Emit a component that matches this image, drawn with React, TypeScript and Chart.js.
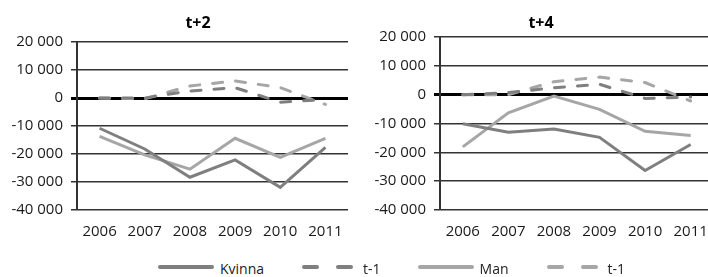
import React, { useEffect, useRef } from 'react';
import { Chart, registerables } from 'chart.js';

Chart.register(...registerables);

const years = ['2006', '2007', '2008', '2009', '2010', '2011'];
const yTicks = [-40000, -30000, -20000, -10000, 0, 10000, 20000];
const seriesLabels = ['Kvinna', 't-1', 'Man', 't-1'];
const chartTitles = ['t+2', 't+4'];

// t+2
const kvinnaT2 = [-10800, -18200, -28300, -22100, -31900, -17600];
const kvinnaT2Prev = [0, 0, 2500, 3700, -1500, -500];
const manT2 = [-13700, -20300, -25400, -14400, -21200, -14400];
const manT2Prev = [0, -300, 4300, 6100, 3700, -2300];

// t+4
const kvinnaT4 = [-10100, -13000, -11900, -14800, -26300, -17300];
const kvinnaT4Prev = [0, 700, 2400, 3600, -1300, -800];
const manT4 = [-18100, -6300, -500, -5100, -12700, -14200];
const manT4Prev = [0, 0, 4500, 6100, 4200, -2200];

const DARK = '#7f7f7f';
const LIGHT = '#a6a6a6';
const FONT = "'Open Sans', sans-serif";
const TEXT = '#1a1a1a';

function fmt(v: number): string {
  const s = Math.abs(v).toString().replace(/\B(?=(\d{3})+(?!\d))/g, ' ');
  return (v < 0 ? '-' : '') + s;
}

type Layout = { top: number; yWidth: number; right: number; bottom: number; xHeight: number };

function makeConfig(kv: number[], kvPrev: number[], man: number[], manPrev: number[], L: Layout): any {
  const solid = (label: string, data: number[], color: string) => ({
    label, data, borderColor: color, backgroundColor: color, borderWidth: 3,
    pointRadius: 0, tension: 0, fill: false, borderJoinStyle: 'miter',
  });
  const dashed = (label: string, data: number[], color: string) => ({
    label, data, borderColor: color, backgroundColor: color, borderWidth: 3,
    pointRadius: 0, tension: 0, fill: false, borderDash: [10, 13], borderCapStyle: 'round',
  });
  return {
    type: 'line',
    data: {
      labels: years,
      datasets: [
        solid(seriesLabels[0], kv, DARK),
        dashed(seriesLabels[1], kvPrev, DARK),
        solid(seriesLabels[2], man, LIGHT),
        dashed(seriesLabels[3], manPrev, LIGHT),
      ],
    },
    options: {
      responsive: false,
      animation: false,
      layout: { padding: { top: L.top, left: 0, right: L.right, bottom: L.bottom } },
      plugins: { legend: { display: false }, title: { display: false }, tooltip: { enabled: false } },
      scales: {
        x: {
          offset: true,
          grid: { display: false, drawTicks: false },
          border: { display: false },
          ticks: { color: TEXT, font: { family: FONT, size: 15 }, padding: 13, maxRotation: 0, autoSkip: false },
          afterFit: (s: any) => { s.height = L.xHeight; },
        },
        y: {
          min: -40000,
          max: 20000,
          afterBuildTicks: (s: any) => { s.ticks = yTicks.map((v) => ({ value: v })); },
          grid: {
            color: (c: any) => (c.tick && c.tick.value === 0 ? '#000' : '#333'),
            lineWidth: (c: any) => (c.tick && c.tick.value === 0 ? 3 : 1.5),
            tickLength: 6,
          },
          border: { display: true, color: '#333', width: 2 },
          ticks: { color: TEXT, font: { family: FONT, size: 15 }, padding: 8, callback: (v: any) => fmt(Number(v)) },
          afterFit: (s: any) => { s.width = L.yWidth; },
        },
      },
    },
  };
}

function ChartBox(props: { config: any; left: number; width: number; height: number }) {
  const ref = useRef<HTMLCanvasElement | null>(null);
  useEffect(() => {
    if (!ref.current) return;
    const ch = new Chart(ref.current, props.config);
    return () => ch.destroy();
  }, []);
  return (
    <canvas
      ref={ref}
      width={props.width}
      height={props.height}
      style={{ position: 'absolute', left: props.left, top: 0, width: props.width, height: props.height }}
    />
  );
}

function LegendLine(props: { color: string; dashed: boolean }) {
  return (
    <svg width={56} height={8} style={{ display: 'block' }}>
      {props.dashed ? (
        <line x1={3} y1={4} x2={53} y2={4} stroke={props.color} strokeWidth={4} strokeLinecap="round" strokeDasharray="13 21" />
      ) : (
        <line x1={2} y1={4} x2={54} y2={4} stroke={props.color} strokeWidth={4} strokeLinecap="round" />
      )}
    </svg>
  );
}

export default function App() {
  const cfgLeft = makeConfig(kvinnaT2, kvinnaT2Prev, manT2, manT2Prev, { top: 42, yWidth: 77, right: 5, bottom: 8, xHeight: 32 });
  const cfgRight = makeConfig(kvinnaT4, kvinnaT4Prev, manT4, manT4Prev, { top: 37, yWidth: 86, right: 2, bottom: 8, xHeight: 32 });
  const legendItems = [
    { label: seriesLabels[0], color: DARK, dashed: false },
    { label: seriesLabels[1], color: DARK, dashed: true },
    { label: seriesLabels[2], color: LIGHT, dashed: false },
    { label: seriesLabels[3], color: LIGHT, dashed: true },
  ];
  const titleStyle = (cx: number): React.CSSProperties => ({
    position: 'absolute', left: cx - 50, width: 100, top: 11, textAlign: 'center',
    fontFamily: FONT, fontWeight: 700, fontSize: 16, lineHeight: '22px', color: '#000',
  });
  return (
    <div style={{ position: 'absolute', left: 0, top: 0, width: 708, height: 277, overflow: 'hidden', background: '#fff' }}>
      <ChartBox config={cfgLeft} left={0} width={356} height={250} />
      <ChartBox config={cfgRight} left={354} width={367} height={250} />
      <div style={titleStyle(198)}>{chartTitles[0]}</div>
      <div style={titleStyle(541)}>{chartTitles[1]}</div>
      <div style={{ position: 'absolute', left: 158, top: 258, display: 'flex', alignItems: 'center', gap: 37 }}>
        {legendItems.map((it, i) => (
          <div key={i} style={{ display: 'flex', alignItems: 'center' }}>
            <LegendLine color={it.color} dashed={it.dashed} />
            <span style={{ marginLeft: 6, position: 'relative', top: 2, fontFamily: FONT, fontSize: 14, lineHeight: '18px', color: '#222' }}>{it.label}</span>
          </div>
        ))}
      </div>
    </div>
  );
}
